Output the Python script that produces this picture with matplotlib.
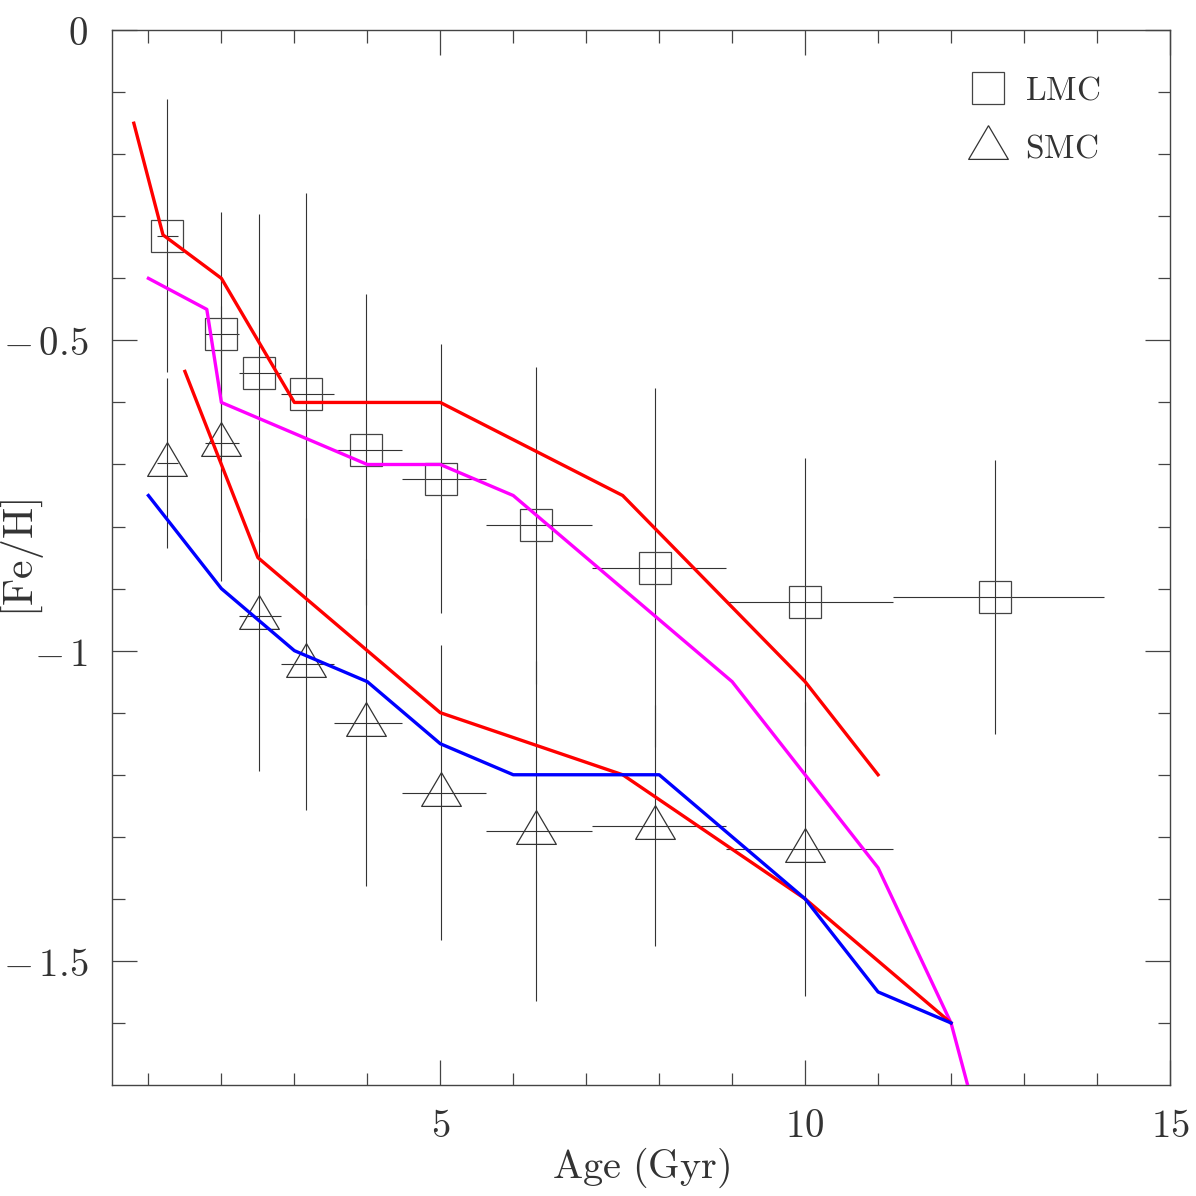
import matplotlib.pyplot as plt
from matplotlib.lines import Line2D
import numpy as np

plt.rcParams['mathtext.fontset'] = 'cm'

# cluster ages (Gyr) and bin edges
age = [1.26, 2.0, 2.51, 3.16, 3.98, 5.01, 6.31, 7.94, 10.0, 12.6]
age_lo = [1.12, 1.78, 2.24, 2.82, 3.55, 4.47, 5.62, 7.08, 8.91, 11.2]
age_hi = [1.41, 2.24, 2.82, 3.55, 4.47, 5.62, 7.08, 8.91, 11.2, 14.1]

lmc_feh = [-0.331, -0.49, -0.552, -0.586, -0.676, -0.723, -0.798, -0.866, -0.921, -0.913]
lmc_err = [0.22, 0.197, 0.256, 0.323, 0.25, 0.217, 0.255, 0.29, 0.232, 0.221]

smc_feh = [-0.698, -0.666, -0.944, -1.021, -1.116, -1.229, -1.29, -1.282, -1.319]
smc_err = [0.137, 0.221, 0.25, 0.235, 0.263, 0.238, 0.274, 0.194, 0.237]

# model age-metallicity relations
red1_x = [0.8, 1.2, 2, 3, 5, 7.5, 10, 11]
red1_y = [-0.15, -0.33, -0.4, -0.6, -0.6, -0.75, -1.05, -1.2]
mag_x = [1, 1.8, 2, 4, 5, 6, 9, 11, 12, 12.5]
mag_y = [-0.4, -0.45, -0.6, -0.7, -0.7, -0.75, -1.05, -1.35, -1.6, -1.82]
red2_x = [1.5, 2.5, 5, 7.5, 10, 12]
red2_y = [-0.55, -0.85, -1.1, -1.2, -1.4, -1.6]
blue_x = [1, 2, 3, 4, 5, 6, 8, 10, 11, 12]
blue_y = [-0.75, -0.9, -1.0, -1.05, -1.15, -1.2, -1.2, -1.4, -1.55, -1.6]

ink = '#333333'
tri = [(0, 21), (-20, -13), (20, -13), (0, 21)]

fig = plt.figure(figsize=(11.96, 11.96), dpi=100)
ax = fig.add_axes([0.0936, 0.0928, 0.8846, 0.882])

a = np.array(age)
lo = np.array(age_lo)
hi = np.array(age_hi)
n = len(smc_feh)

ax.errorbar(a, lmc_feh, xerr=[a - lo, hi - a], yerr=lmc_err, fmt='none',
            ecolor=ink, elinewidth=0.8, capsize=0, zorder=2)
ax.errorbar(a[:n], smc_feh, xerr=[a[:n] - lo[:n], hi[:n] - a[:n]], yerr=smc_err,
            fmt='none', ecolor=ink, elinewidth=0.8, capsize=0, zorder=2)
ax.plot(a, lmc_feh, ls='none', marker='s', ms=23, mfc='none', mec='#444444',
        mew=0.9, zorder=3)
ax.plot(a[:n], smc_feh, ls='none', marker=tri, ms=30, mfc='none', mec='#333333',
        mew=0.9, zorder=3)

ax.plot(red1_x, red1_y, color='#ff0000', lw=2.4, zorder=4)
ax.plot(mag_x, mag_y, color='#ff00ff', lw=2.4, zorder=4)
ax.plot(red2_x, red2_y, color='#ff0000', lw=2.4, zorder=4)
ax.plot(blue_x, blue_y, color='#0000ff', lw=2.4, zorder=4)

ax.set_xlim(0.5, 15)
ax.set_ylim(-1.7, 0)

ax.set_xticks([5, 10, 15])
ax.set_xticklabels(['$5$', '$10$', '$15$'])
ax.set_xticks(np.arange(1, 15), minor=True)
ax.set_yticks([0, -0.5, -1, -1.5])
ax.set_yticklabels(['$0$', r'$-\,0.5$', r'$-\,1$', r'$-\,1.5$'])
ax.set_yticks(np.arange(-1.6, 0, 0.1), minor=True)

ax.tick_params(which='both', direction='in', top=True, right=True,
               colors='#444444', labelcolor=ink, labelsize=28, width=0.9)
ax.tick_params(which='major', length=18)
ax.tick_params(which='minor', length=9)
ax.tick_params(axis='x', pad=16)
ax.tick_params(axis='y', pad=17)
for s in ax.spines.values():
    s.set_color('#444444')
    s.set_linewidth(1.0)

ax.set_xlabel(r'$\mathrm{Age\ (Gyr)}$', fontsize=29, color=ink)
ax.xaxis.set_label_coords(0.5, -0.058)
ax.set_ylabel(r'$[\mathrm{Fe/H}]$', fontsize=30, color=ink)
ax.yaxis.set_label_coords(-0.062, 0.5)

handles = [Line2D([], [], ls='none', marker='s', ms=23, mfc='none', mec='#444444', mew=0.9),
           Line2D([], [], ls='none', marker=tri, ms=30, mfc='none', mec='#333333', mew=0.9)]
leg = ax.legend(handles, [r'$\mathrm{LMC}$', r'$\mathrm{SMC}$'], loc='upper right',
                bbox_to_anchor=(0.975, 1.0), frameon=False, fontsize=24,
                handlelength=1.0, handletextpad=0.6, labelspacing=0.75,
                borderaxespad=0.9)
for t in leg.get_texts():
    t.set_color(ink)

fig.savefig('out.png', dpi=100)
